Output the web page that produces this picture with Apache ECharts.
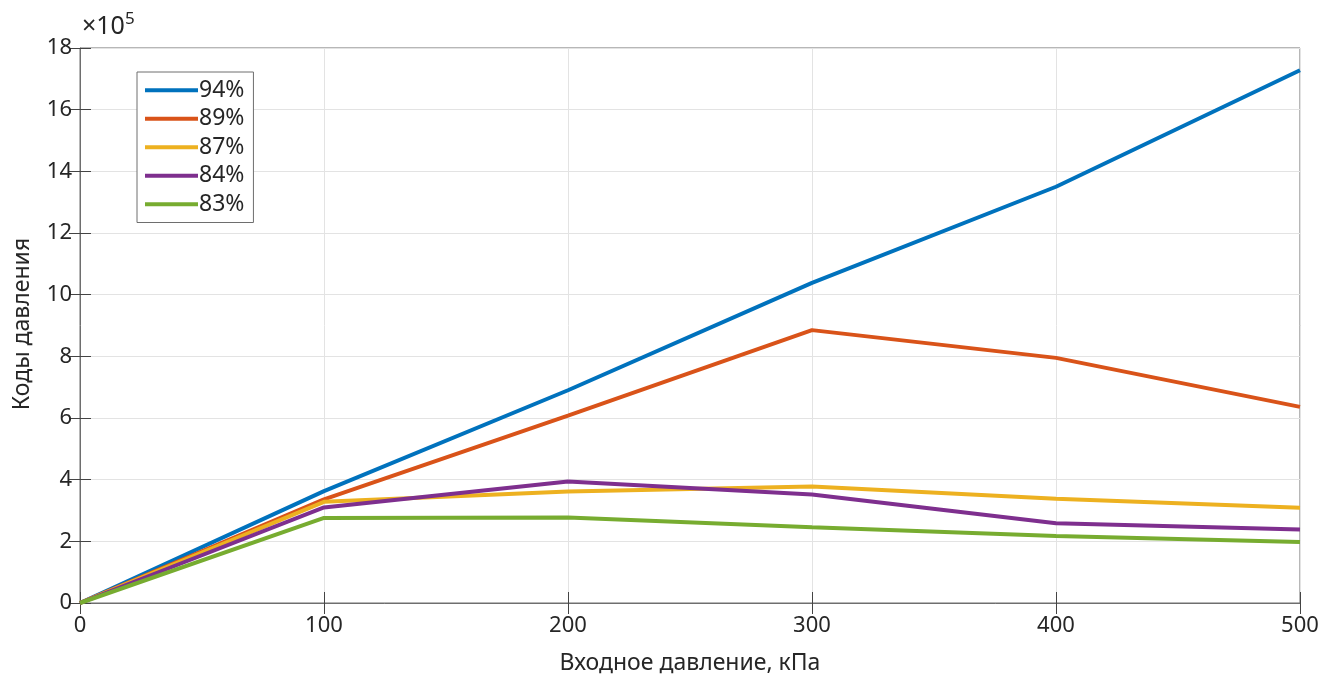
<!DOCTYPE html>
<html><head><meta charset="utf-8">
<script src="https://cdn.jsdelivr.net/npm/echarts@6/dist/echarts.min.js"></script>
<style>html,body{margin:0;padding:0;background:#fff}#c{width:1325px;height:678px}</style>
</head><body><div id="c"></div>
<script>
const xValues = [0, 100, 200, 300, 400, 500];
const seriesNames = ['94%', '89%', '87%', '84%', '83%'];
const s94 = [0, 363000, 690000, 1038000, 1350000, 1728000];
const s89 = [0, 336000, 608000, 885000, 795000, 636000];
const s87 = [0, 328000, 362000, 378000, 338000, 309000];
const s84 = [0, 310000, 394000, 352000, 259000, 238000];
const s83 = [0, 276000, 277000, 246000, 217000, 198000];
const colors = ['#0072BD', '#D95319', '#EDB120', '#7E2F8E', '#77AC30'];
const allSeries = [s94, s89, s87, s84, s83];

const font = 'Noto Sans';
const chart = echarts.init(document.getElementById('c'));
const axisCol = '#262626';
chart.setOption({
  animation: false,
  textStyle: {fontFamily: font},
  grid: {left: 80, right: 25, top: 48, bottom: 75, outerBoundsMode: 'none', containLabel: false,
         show: true, borderColor: '#6e6e6e', borderWidth: 1},
  legend: {
    left: 137, top: 72, orient: 'vertical',
    backgroundColor: '#fff', borderColor: '#6e6e6e', borderWidth: 1,
    padding: [4, 9, 4, 8], itemGap: 0, itemWidth: 53, itemHeight: 4,
    icon: 'rect',
    textStyle: {fontFamily: font, fontSize: 23, color: axisCol, lineHeight: 28.5, padding: [0, 0, 0, -4]},
    data: seriesNames
  },
  xAxis: [{
    type: 'value', min: 0, max: 500, interval: 100,
    name: 'Входное давление, кПа', nameLocation: 'middle', nameGap: 49,
    nameTextStyle: {fontFamily: font, fontSize: 23, color: axisCol},
    axisLine: {show: true, lineStyle: {color: '#6e6e6e'}},
    axisTick: {show: true, inside: true, length: 11, lineStyle: {color: '#444'}},
    axisLabel: {fontFamily: font, fontSize: 22, color: axisCol, margin: 12},
    splitLine: {show: true, lineStyle: {color: '#e3e3e3'}}
  }, {
    type: 'value', position: 'top', min: 0, max: 500, interval: 100,
    axisLine: {show: false}, axisTick: {show: true, inside: true, length: 11, lineStyle: {color: '#444'}},
    axisLabel: {show: false}, splitLine: {show: false}
  }],
  yAxis: [{
    type: 'value', min: 0, max: 1800000, interval: 200000,
    name: '{x|×10}{s|5}', nameLocation: 'end', nameGap: 6,
    nameTextStyle: {align: 'left', padding: [0, 0, 0, 2], rich: {
      x: {fontFamily: font, fontSize: 25, color: axisCol},
      s: {fontFamily: font, fontSize: 17, color: axisCol, verticalAlign: 'top', padding: [0, 0, 14, 0]}
    }},
    axisLine: {show: true, lineStyle: {color: '#6e6e6e'}},
    axisTick: {show: true, inside: true, length: 11, lineStyle: {color: '#444'}},
    axisLabel: {fontFamily: font, fontSize: 22, color: axisCol, margin: 8, formatter: v => String(v / 100000)},
    splitLine: {show: true, lineStyle: {color: '#e3e3e3'}}
  }, {
    type: 'value', position: 'right', min: 0, max: 1800000, interval: 200000,
    axisLine: {show: false}, axisTick: {show: true, inside: true, length: 11, lineStyle: {color: '#444'}},
    axisLabel: {show: false}, splitLine: {show: false}
  }],
  graphic: [{
    type: 'text', rotation: Math.PI / 2, x: 11, y: 324,
    style: {text: 'Коды давления', fontFamily: font, fontSize: 23, fill: axisCol, align: 'center', verticalAlign: 'top'}
  }],
  series: allSeries.map((d, i) => ({
    name: seriesNames[i], type: 'line', symbol: 'none',
    data: d.map((v, j) => [xValues[j], v]),
    lineStyle: {color: colors[i], width: 4},
    itemStyle: {color: colors[i]}
  }))
});
</script></body></html>
